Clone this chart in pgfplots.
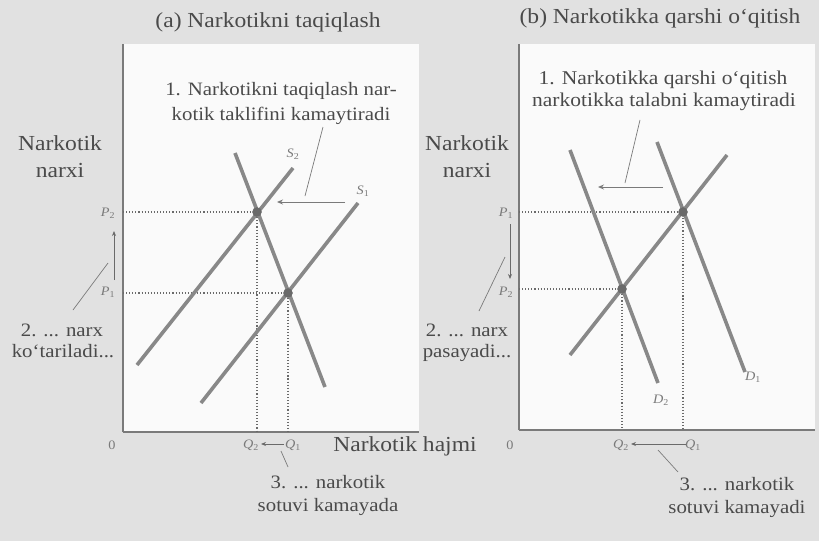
\documentclass[border=0pt]{standalone}
\usepackage{pgfplots}
\pgfplotsset{compat=1.18}
\usepackage{fontspec}
\setmainfont{Liberation Serif}[FakeStretch=1.1]
\usetikzlibrary{arrows.meta}

\definecolor{bgpage}{HTML}{E1E1E1}
\definecolor{panel}{HTML}{FAFAFA}
\definecolor{curve}{HTML}{888888}
\definecolor{dotc}{HTML}{6A6A6A}
\definecolor{ink}{HTML}{4A4A4A}
\definecolor{inklight}{HTML}{7A7A7A}

\pgfplotsset{
  panelaxis/.style={
    scale only axis, width=296bp, anchor=south west,
    xmin=0, xmax=296, ymin=0,
    axis x line*=bottom, axis y line*=left,
    axis line style={-, draw=inklight, line width=1.2bp},
    xtick=\empty, ytick=\empty,
    axis background/.style={fill=panel},
    clip=false,
  },
  curveline/.style={no marks, draw=curve, line width=3.6bp},
  guide/.style={no marks, draw=dotc, line width=1.1bp, dotted},
  eq/.style={only marks, mark=*, mark size=4.5bp, mark options={fill=dotc, draw=dotc}},
}

\newcommand{\fbig}{\fontsize{21.5}{24}\selectfont}
\newcommand{\fmid}{\fontsize{19}{22}\selectfont}
\newcommand{\fmidb}{\fontsize{19.6}{22}\selectfont}
\newcommand{\fsml}{\fontsize{13}{15}\selectfont}
\newcommand{\lab}[2]{{\itshape #1}\textsubscript{#2}}

\begin{document}
\begin{tikzpicture}
\fill[bgpage] (0,0) rectangle (819bp,-541bp);
\path[use as bounding box] (0,0) rectangle (819bp,-541bp);

% (a) prohibition shifts supply left
\begin{axis}[panelaxis, at={(123bp,-432bp)}, height=388bp, ymax=388]
  \addplot[guide] coordinates {(0,220) (134,220) (134,0)};
  \addplot[guide] coordinates {(0,139) (165,139) (165,0)};
  \addplot[curveline] coordinates {(78,29) (235,229)};   % S1
  \addplot[curveline] coordinates {(14,67) (170,264)};   % S2
  \addplot[curveline] coordinates {(112,279) (202,45)};  % D
  \addplot[eq] coordinates {(134,220) (165,139)};
\end{axis}

% (b) education shifts demand left
\begin{axis}[panelaxis, at={(519bp,-430bp)}, height=386bp, ymax=386]
  \addplot[guide] coordinates {(0,218) (164,218) (164,0)};
  \addplot[guide] coordinates {(0,141) (103,141) (103,0)};
  \addplot[curveline] coordinates {(51,75) (208,275)};   % S
  \addplot[curveline] coordinates {(138,288) (226,58)};  % D1
  \addplot[curveline] coordinates {(51,280) (139,47)};   % D2
  \addplot[eq] coordinates {(164,218) (103,141)};
\end{axis}

\begin{scope}[x=1bp, y=-1bp]
  % titles
  \node[ink, font=\fbig, anchor=base] at (268,27) {(a) Narkotikni taqiqlash};
  \node[ink, font=\fbig, anchor=base] at (660,23) {(b) Narkotikka qarshi o‘qitish};

  % vertical axis labels
  \node[ink, font=\fbig, anchor=base] at (60,150) {Narkotik};
  \node[ink, font=\fbig, anchor=base] at (60,177) {narxi};
  \node[ink, font=\fbig, anchor=base] at (467,150) {Narkotik};
  \node[ink, font=\fbig, anchor=base] at (467,177) {narxi};

  % horizontal axis label and origins
  \node[ink, font=\fbig, anchor=base] at (405,451) {Narkotik hajmi};
  \node[inklight, font=\fsml] at (112,445) {0};
  \node[inklight, font=\fsml] at (510,445) {0};

  % panel (a) notes
  \node[ink, font=\fmid, anchor=base] at (281,95) {1. Narkotikni taqiqlash nar-};
  \node[ink, font=\fmid, anchor=base] at (281,120) {kotik taklifini kamaytiradi};
  \draw[inklight, line width=0.7bp] (305,196) -- (323,127);
  \draw[inklight, line width=1bp, -{Stealth[length=6bp,width=5bp]}] (345,202) -- (277,202);
  \node[inklight, font=\fsml] at (293,154) {\lab{S}{2}};
  \node[inklight, font=\fsml] at (363,191) {\lab{S}{1}};
  \node[inklight, font=\fsml] at (108,213) {\lab{P}{2}};
  \node[inklight, font=\fsml] at (108,292) {\lab{P}{1}};
  \draw[dotc, line width=1bp, -{Stealth[length=5bp,width=4bp]}] (114,280) -- (114,231);
  \draw[inklight, line width=0.7bp] (73,310) -- (108,263);
  \node[ink, font=\fmid, anchor=base] at (62,336) {2. ... narx};
  \node[ink, font=\fmid, anchor=base] at (63,357) {ko‘tariladi...};
  \node[inklight, font=\fsml] at (251,445) {\lab{Q}{2}};
  \node[inklight, font=\fsml] at (293,445) {\lab{Q}{1}};
  \draw[dotc, line width=0.9bp, -{Stealth[length=5bp,width=4bp]}] (284,444) -- (261,444);
  \draw[inklight, line width=0.7bp] (281,451) -- (288,467);
  \node[ink, font=\fmid, anchor=base] at (328,488) {3. ... narkotik};
  \node[ink, font=\fmid, anchor=base] at (328,511) {sotuvi kamayada};

  % panel (b) notes
  \node[ink, font=\fmidb, anchor=base] at (663,84) {1. Narkotikka qarshi o‘qitish};
  \node[ink, font=\fmidb, anchor=base] at (664,106) {narkotikka talabni kamaytiradi};
  \draw[inklight, line width=0.7bp] (625,183) -- (640,120);
  \draw[inklight, line width=1bp, -{Stealth[length=6bp,width=5bp]}] (663,187) -- (598,187);
  \node[inklight, font=\fsml] at (753,377) {\lab{D}{1}};
  \node[inklight, font=\fsml] at (661,400) {\lab{D}{2}};
  \node[inklight, font=\fsml] at (506,213) {\lab{P}{1}};
  \node[inklight, font=\fsml] at (506,292) {\lab{P}{2}};
  \draw[dotc, line width=1bp, -{Stealth[length=5bp,width=4bp]}] (510,224) -- (510,279);
  \draw[inklight, line width=0.7bp] (479,311) -- (505,257);
  \node[ink, font=\fmid, anchor=base] at (467,336) {2. ... narx};
  \node[ink, font=\fmid, anchor=base] at (467,357) {pasayadi...};
  \node[inklight, font=\fsml] at (621,445) {\lab{Q}{2}};
  \node[inklight, font=\fsml] at (693,445) {\lab{Q}{1}};
  \draw[dotc, line width=0.9bp, -{Stealth[length=5bp,width=4bp]}] (686,444) -- (631,444);
  \draw[inklight, line width=0.7bp] (658,450) -- (678,472);
  \node[ink, font=\fmid, anchor=base] at (737,490) {3. ... narkotik};
  \node[ink, font=\fmid, anchor=base] at (737,513) {sotuvi kamayadi};
\end{scope}
\end{tikzpicture}
\end{document}
